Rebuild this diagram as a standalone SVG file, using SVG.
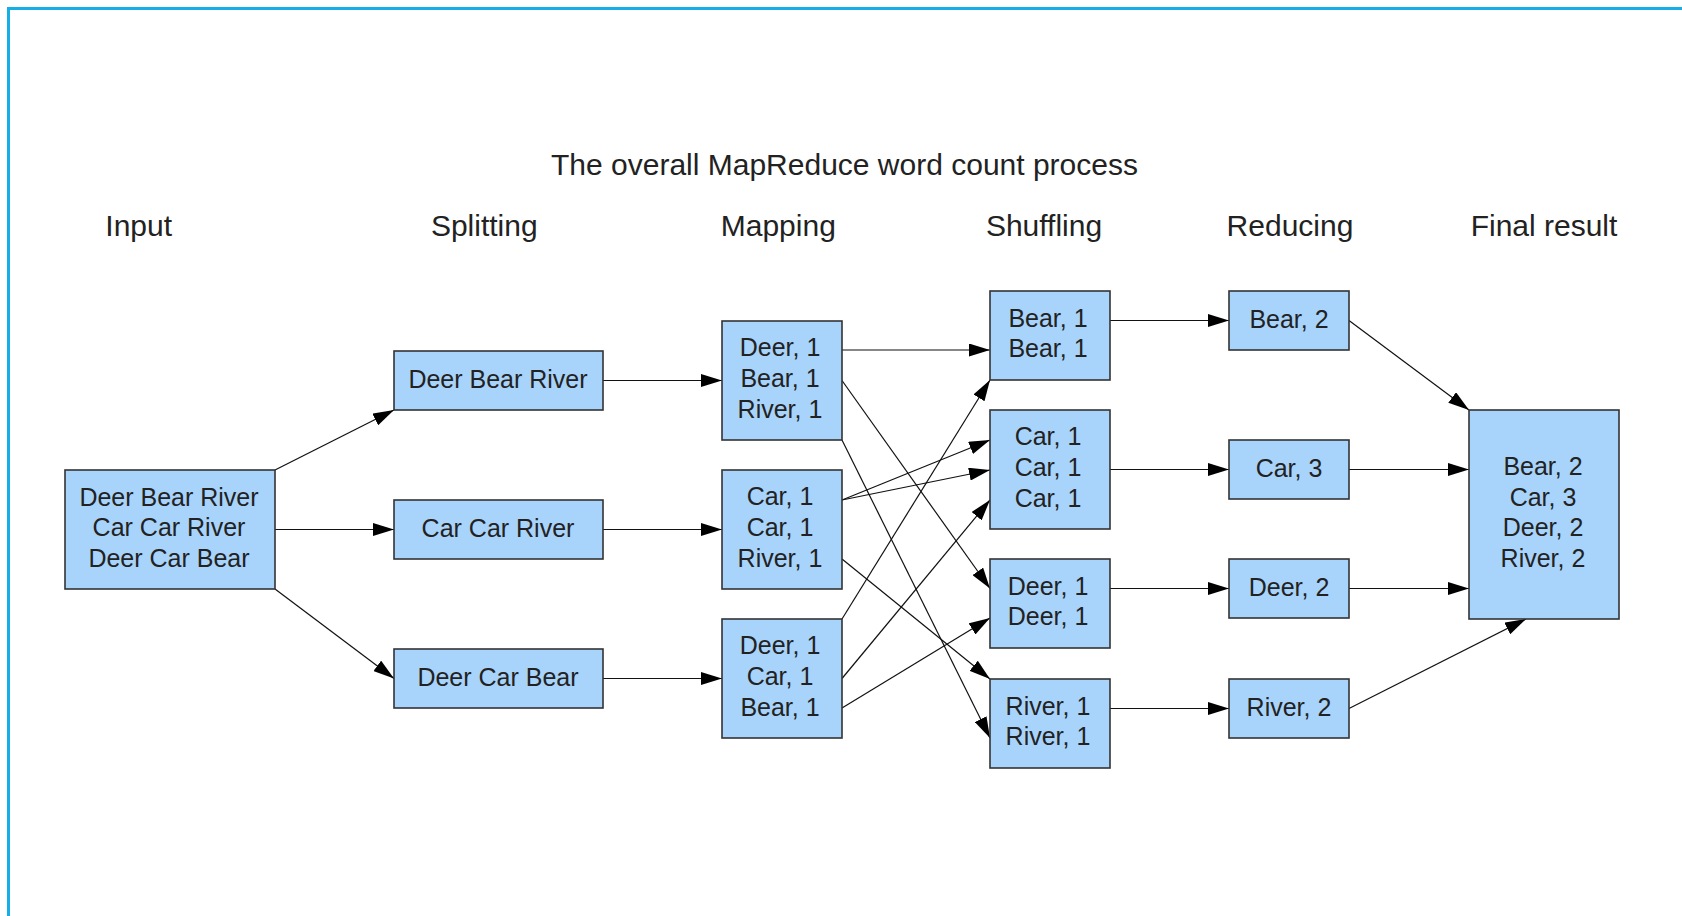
<svg xmlns="http://www.w3.org/2000/svg" width="1682" height="916" viewBox="0 0 1682 916">
  <defs>
    <marker id="arrow" markerUnits="userSpaceOnUse" markerWidth="21" markerHeight="13" refX="21" refY="6.5" orient="auto">
      <path d="M0,0 L21,6.5 L0,13 z" fill="#000"/>
    </marker>
    <style>
      .box { fill: #a8d4fc; stroke: #333; stroke-width: 1.6; }
      .lbl { font-family: "Liberation Sans", Arial, sans-serif; font-size: 25px; fill: #222; text-anchor: middle; }
      .head { font-family: "Liberation Sans", Arial, sans-serif; font-size: 30px; fill: #222; text-anchor: middle; }
      .edge { stroke: #111; stroke-width: 1.2; fill: none; marker-end: url(#arrow); }
    </style>
  </defs>

  <rect width="1682" height="916" fill="#fff"/>
  <!-- frame -->
  <path d="M8.5,916 V8.5 H1682" fill="none" stroke="#17aee8" stroke-width="3"/>

  <!-- headings -->
  <g id="headings">
    <text class="head" x="844.5" y="175">The overall MapReduce word count process</text>
    <text class="head" x="138.7" y="236">Input</text>
    <text class="head" x="484.3" y="236">Splitting</text>
    <text class="head" x="778.3" y="236">Mapping</text>
    <text class="head" x="1044" y="236">Shuffling</text>
    <text class="head" x="1290" y="236">Reducing</text>
    <text class="head" x="1544" y="236">Final result</text>
  </g>

  <!-- connectors -->
  <g id="connectors">
    <line class="edge" x1="275" y1="470" x2="394" y2="410"/>
    <line class="edge" x1="275" y1="529.5" x2="394" y2="529.5"/>
    <line class="edge" x1="275" y1="589" x2="394" y2="678.5"/>

    <line class="edge" x1="603" y1="380.5" x2="722" y2="380.5"/>
    <line class="edge" x1="603" y1="529.5" x2="722" y2="529.5"/>
    <line class="edge" x1="603" y1="678.5" x2="722" y2="678.5"/>

    <line class="edge" x1="842" y1="350" x2="990" y2="350"/>
    <line class="edge" x1="842" y1="380.5" x2="990" y2="588.5"/>
    <line class="edge" x1="842" y1="440" x2="990" y2="738"/>
    <line class="edge" x1="842" y1="500" x2="990" y2="440"/>
    <line class="edge" x1="842" y1="500" x2="990" y2="470"/>
    <line class="edge" x1="842" y1="559" x2="990" y2="679"/>
    <line class="edge" x1="842" y1="619" x2="990" y2="380"/>
    <line class="edge" x1="842" y1="678.5" x2="990" y2="500"/>
    <line class="edge" x1="842" y1="708" x2="990" y2="618"/>

    <line class="edge" x1="1110" y1="320.5" x2="1229" y2="320.5"/>
    <line class="edge" x1="1110" y1="469.5" x2="1229" y2="469.5"/>
    <line class="edge" x1="1110" y1="588.5" x2="1229" y2="588.5"/>
    <line class="edge" x1="1110" y1="708.5" x2="1229" y2="708.5"/>

    <line class="edge" x1="1349" y1="320.5" x2="1469" y2="410"/>
    <line class="edge" x1="1349" y1="469.5" x2="1469" y2="469.5"/>
    <line class="edge" x1="1349" y1="588.5" x2="1469" y2="588.5"/>
    <line class="edge" x1="1349" y1="708.5" x2="1526" y2="619"/>
  </g>

  <!-- input -->
  <g id="input">
    <rect class="box" x="65" y="470" width="210" height="119"/>
    <text class="lbl" x="169" y="505.5">Deer Bear River</text>
    <text class="lbl" x="169" y="536.3">Car Car River</text>
    <text class="lbl" x="169" y="567.1">Deer Car Bear</text>
  </g>

  <!-- splitting -->
  <g id="split-1">
    <rect class="box" x="394" y="351" width="209" height="59"/>
    <text class="lbl" x="498" y="388">Deer Bear River</text>
  </g>
  <g id="split-2">
    <rect class="box" x="394" y="500" width="209" height="59"/>
    <text class="lbl" x="498" y="537">Car Car River</text>
  </g>
  <g id="split-3">
    <rect class="box" x="394" y="649" width="209" height="59"/>
    <text class="lbl" x="498" y="686">Deer Car Bear</text>
  </g>

  <!-- mapping -->
  <g id="map-1">
    <rect class="box" x="722" y="321" width="120" height="119"/>
    <text class="lbl" x="780" y="356.2">Deer, 1</text>
    <text class="lbl" x="780" y="387">Bear, 1</text>
    <text class="lbl" x="780" y="417.8">River, 1</text>
  </g>
  <g id="map-2">
    <rect class="box" x="722" y="470" width="120" height="119"/>
    <text class="lbl" x="780" y="505.2">Car, 1</text>
    <text class="lbl" x="780" y="536">Car, 1</text>
    <text class="lbl" x="780" y="566.8">River, 1</text>
  </g>
  <g id="map-3">
    <rect class="box" x="722" y="619" width="120" height="119"/>
    <text class="lbl" x="780" y="654.2">Deer, 1</text>
    <text class="lbl" x="780" y="685">Car, 1</text>
    <text class="lbl" x="780" y="715.8">Bear, 1</text>
  </g>

  <!-- shuffling -->
  <g id="shuffle-bear">
    <rect class="box" x="990" y="291" width="120" height="89"/>
    <text class="lbl" x="1048" y="326.6">Bear, 1</text>
    <text class="lbl" x="1048" y="357.4">Bear, 1</text>
  </g>
  <g id="shuffle-car">
    <rect class="box" x="990" y="410" width="120" height="119"/>
    <text class="lbl" x="1048" y="445.2">Car, 1</text>
    <text class="lbl" x="1048" y="476">Car, 1</text>
    <text class="lbl" x="1048" y="506.8">Car, 1</text>
  </g>
  <g id="shuffle-deer">
    <rect class="box" x="990" y="559" width="120" height="89"/>
    <text class="lbl" x="1048" y="594.6">Deer, 1</text>
    <text class="lbl" x="1048" y="625.4">Deer, 1</text>
  </g>
  <g id="shuffle-river">
    <rect class="box" x="990" y="679" width="120" height="89"/>
    <text class="lbl" x="1048" y="714.6">River, 1</text>
    <text class="lbl" x="1048" y="745.4">River, 1</text>
  </g>

  <!-- reducing -->
  <g id="reduce-bear">
    <rect class="box" x="1229" y="291" width="120" height="59"/>
    <text class="lbl" x="1289" y="327.7">Bear, 2</text>
  </g>
  <g id="reduce-car">
    <rect class="box" x="1229" y="440" width="120" height="59"/>
    <text class="lbl" x="1289" y="476.7">Car, 3</text>
  </g>
  <g id="reduce-deer">
    <rect class="box" x="1229" y="559" width="120" height="59"/>
    <text class="lbl" x="1289" y="595.7">Deer, 2</text>
  </g>
  <g id="reduce-river">
    <rect class="box" x="1229" y="679" width="120" height="59"/>
    <text class="lbl" x="1289" y="715.7">River, 2</text>
  </g>

  <!-- final result -->
  <g id="final">
    <rect class="box" x="1469" y="410" width="150" height="209"/>
    <text class="lbl" x="1543" y="474.8">Bear, 2</text>
    <text class="lbl" x="1543" y="505.6">Car, 3</text>
    <text class="lbl" x="1543" y="536.4">Deer, 2</text>
    <text class="lbl" x="1543" y="567.2">River, 2</text>
  </g>
</svg>
